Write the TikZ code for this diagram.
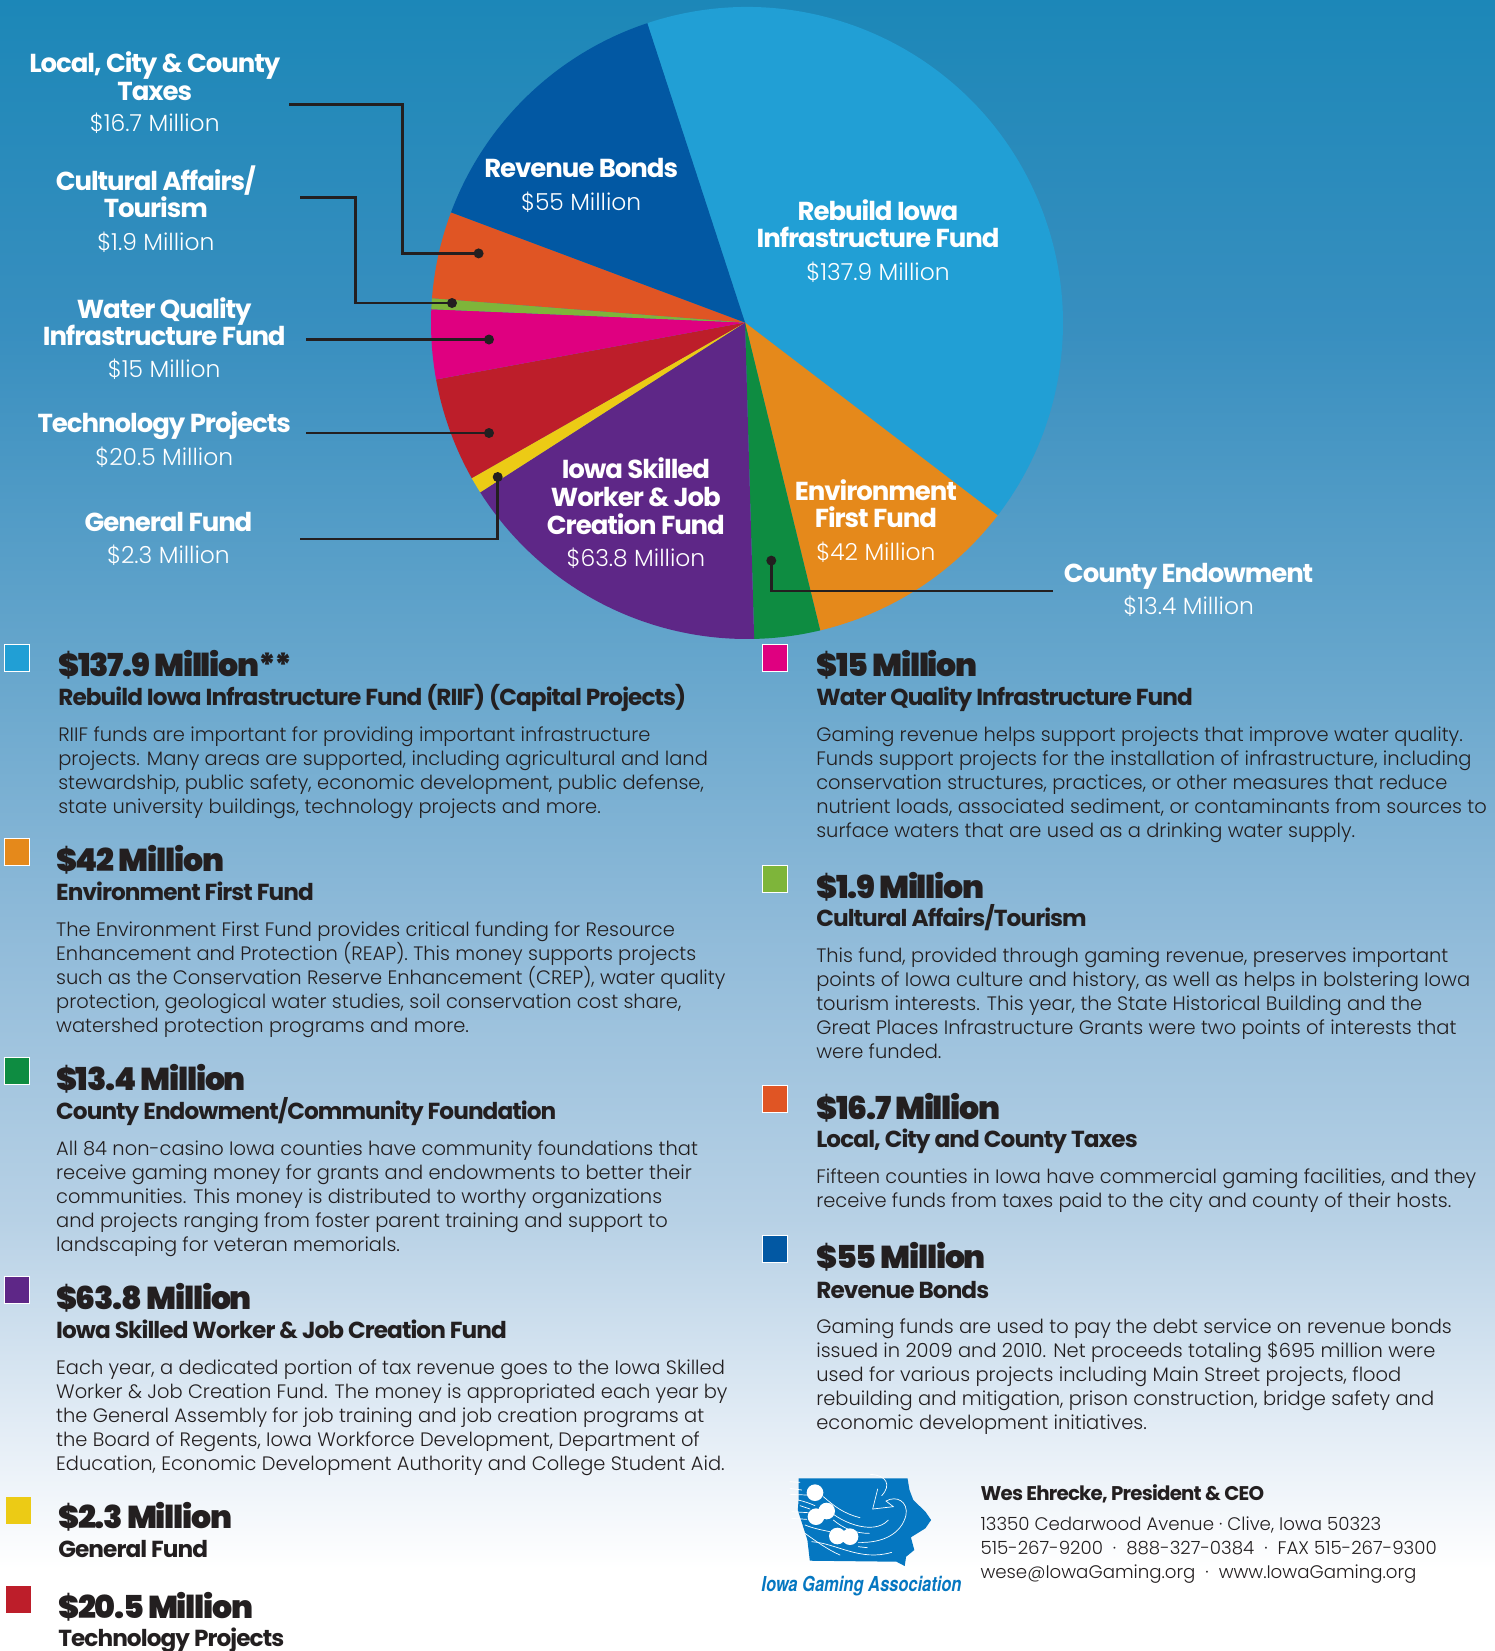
\documentclass[tikz,border=0pt]{standalone}
\usepackage{fontspec}
\setmainfont{Poppins}
\newfontfamily\fblack[LetterSpace=-4]{Poppins Black}
\newfontfamily\fbold[LetterSpace=-4]{Poppins Bold}
\newfontfamily\flight{Poppins Light}
\newfontfamily\flogo[FakeStretch=0.8]{TeX Gyre Heros}
\usetikzlibrary{calc}
\newcommand{\tightlines}{\lineskiplimit=-20pt\relax}
\definecolor{ink}{HTML}{231F20}
\definecolor{cRiif}{HTML}{219FD5}
\definecolor{cEnv}{HTML}{E5891B}
\definecolor{cCounty}{HTML}{0E8C41}
\definecolor{cSkill}{HTML}{5E2787}
\definecolor{cGen}{HTML}{ECCB15}
\definecolor{cTech}{HTML}{BD1E2A}
\definecolor{cWater}{HTML}{DF0080}
\definecolor{cCult}{HTML}{7EB53A}
\definecolor{cLocal}{HTML}{E05524}
\definecolor{cBond}{HTML}{0258A3}
\definecolor{cLogo}{HTML}{0577C1}
\pgfdeclareverticalshading{pagebg}{100bp}{
 rgb(0bp)=(1,1,1);
 rgb(27.5bp)=(1,1,1);
 rgb(31bp)=(.91,.94,.97);
 rgb(38bp)=(.72,.82,.90);
 rgb(47bp)=(.56,.73,.85);
 rgb(55bp)=(.40,.65,.80);
 rgb(65bp)=(.22,.56,.75);
 rgb(75bp)=(.11,.53,.72);
 rgb(100bp)=(.11,.53,.72)}
\tikzset{
 pic px/.style={x=0.5pt,y=-0.5pt},
 wedge/.style={line width=0pt},
 leader/.style={draw=ink,line width=1.25pt},
 leaddot/.style={circle,fill=ink,inner sep=0pt,minimum size=5pt},
 lbltitle/.style={text=white,align=center,inner sep=0pt,anchor=north,font=\fbold\fontsize{13}{13.7pt}\selectfont\tightlines},
 lblamt/.style={text=white,inner sep=0pt,anchor=base,font=\flight\fontsize{11.7}{14pt}\selectfont},
 key/.style={draw=white,line width=.5pt,minimum width=12.6pt,minimum height=13.5pt,inner sep=0pt,anchor=north west},
 amt/.style={text=ink,inner sep=0pt,anchor=base west,font=\fblack\fontsize{15.8}{20pt}\selectfont},
 fund/.style={text=ink,inner sep=0pt,anchor=base west,font=\fbold\fontsize{11.6}{14pt}\selectfont},
 body/.style={text=ink,inner sep=0pt,anchor=north west,align=left,font=\flight\fontsize{9.72}{12pt}\selectfont\tightlines},
 contact/.style={text=ink,inner sep=0pt,anchor=base west,font=\flight\fontsize{9.1}{12pt}\selectfont},
 swirl/.style={draw=white,line width=.35pt,line cap=round},
}
\newcommand{\slice}[3]{\fill[#1,wedge] (apex) -- ($(centre)+(#2:316)$) arc[start angle=#2,end angle=#3,radius=316] -- cycle;}
\begin{document}
\begin{tikzpicture}[pic px]
\useasboundingbox (0,0) rectangle (1495,1651);
\shade[shading=pagebg] (0,0) rectangle (1495,1651);
\coordinate (centre) at (747,323);
\coordinate (apex) at (745,322.5);
% pie
\slice{cRiif}{-108.4}{37.5}
\slice{cEnv}{37.5}{76.6}
\slice{cCounty}{76.6}{88.7}
\slice{cSkill}{88.7}{147.6}
\slice{cGen}{147.6}{150.6}
\slice{cTech}{150.6}{169.7}
\slice{cWater}{169.7}{182.5}
\slice{cCult}{182.5}{184.5}
\slice{cLocal}{184.5}{200.5}
\slice{cBond}{200.5}{251.6}
% leaders
\node[leaddot] (dLocal) at (478.6,253.4) {};
\node[leaddot] (dCult) at (452,303) {};
\node[leaddot] (dWater) at (489,339.5) {};
\node[leaddot] (dTech) at (489,433) {};
\node[leaddot] (dGen) at (497.7,477) {};
\node[leaddot] (dCounty) at (771.3,560.6) {};
\coordinate (sLocal) at (289,104.4);
\coordinate (mLocal) at (402.4,253.4);
\coordinate (sCult) at (300.3,197.4);
\coordinate (mCult) at (355.6,303);
\coordinate (sWater) at (306,339.5);
\coordinate (sTech) at (306,433);
\coordinate (sGen) at (300.3,539);
\coordinate (sCounty) at (1052.6,591);
\draw[leader] (sLocal) -| (mLocal) -- (dLocal.center);
\draw[leader] (sCult) -| (mCult) -- (dCult.center);
\draw[leader] (sWater) -- (dWater.center);
\draw[leader] (sTech) -- (dTech.center);
\draw[leader] (sGen) -| (dGen.center);
\draw[leader] (sCounty) -| (dCounty.center);
\begin{scope}[x=0.5264pt,y=-0.5264pt]
% pie labels
\node[lbltitle] (tLocal) at (147,49) {Local, City \& County\\Taxes};
\node[lblamt] (aLocal) at (147,125) {\$16.7 Million};
\node[lbltitle] (tCult) at (148,157) {Cultural Affairs/\\Tourism};
\node[lblamt] (aCult) at (148,238) {\$1.9 Million};
\node[lbltitle] (tWater) at (156,282) {Water Quality\\Infrastructure Fund};
\node[lblamt] (aWater) at (156,359) {\$15 Million};
\node[lbltitle] (tTech) at (156,391) {Technology Projects};
\node[lblamt] (aTech) at (156,442) {\$20.5 Million};
\node[lbltitle] (tGen) at (160,486) {General Fund};
\node[lblamt] (aGen) at (160,535) {\$2.3 Million};
\node[lbltitle] (tCounty) at (1129,535) {County Endowment};
\node[lblamt] (aCounty) at (1129,584) {\$13.4 Million};
\node[lbltitle] (tBond) at (552,150) {Revenue Bonds};
\node[lblamt] (aBond) at (552,200) {\$55 Million};
\node[lbltitle] (tRiif) at (834,189) {Rebuild Iowa\\Infrastructure Fund};
\node[lblamt] (aRiif) at (834,266) {\$137.9 Million};
\node[lbltitle,font=\fbold\fontsize{13}{14pt}\selectfont\tightlines] (tSkill) at (604,434) {Iowa Skilled\\Worker \& Job\\Creation Fund};
\node[lblamt] (aSkill) at (604,538) {\$63.8 Million};
\node[lbltitle] (tEnv) at (832,455) {Environment\\First Fund};
\node[lblamt] (aEnv) at (832,532) {\$42 Million};
% left column
\node[key,fill=cRiif] (k1) at (4,612) {};
\node[amt] (m1) at (55,643) {\$137.9 Million**};
\node[fund] (f1) at (55,670) {Rebuild Iowa Infrastructure Fund (RIIF) (Capital Projects)};
\node[body] (b1) at (55,690) {RIIF funds are important for providing important infrastructure\\projects. Many areas are supported, including agricultural and land\\stewardship, public safety, economic development, public defense,\\state university buildings, technology projects and more.};
\node[key,fill=cEnv] (k2) at (4,796) {};
\node[amt] (m2) at (53,828) {\$42 Million};
\node[fund] (f2) at (53,855) {Environment First Fund};
\node[body] (b2) at (53,875) {The Environment First Fund provides critical funding for Resource\\Enhancement and Protection (REAP). This money supports projects\\such as the Conservation Reserve Enhancement (CREP), water quality\\protection, geological water studies, soil conservation cost share,\\watershed protection programs and more.};
\node[key,fill=cCounty] (k3) at (4,1004) {};
\node[amt] (m3) at (53,1036) {\$13.4 Million};
\node[fund] (f3) at (53,1063) {County Endowment/Community Foundation};
\node[body] (b3) at (53,1083) {All 84 non-casino Iowa counties have community foundations that\\receive gaming money for grants and endowments to better their\\communities. This money is distributed to worthy organizations\\and projects ranging from foster parent training and support to\\landscaping for veteran memorials.};
\node[key,fill=cSkill] (k4) at (4,1212) {};
\node[amt] (m4) at (53,1244) {\$63.8 Million};
\node[fund] (f4) at (53,1271) {Iowa Skilled Worker \& Job Creation Fund};
\node[body] (b4) at (53,1291) {Each year, a dedicated portion of tax revenue goes to the Iowa Skilled\\Worker \& Job Creation Fund. The money is appropriated each year by\\the General Assembly for job training and job creation programs at\\the Board of Regents, Iowa Workforce Development, Department of\\Education, Economic Development Authority and College Student Aid.};
\node[key,fill=cGen,draw=none] (k5) at (5,1421) {};
\node[amt] (m5) at (55,1452) {\$2.3 Million};
\node[fund] (f5) at (55,1479) {General Fund};
\node[key,fill=cTech,draw=none] (k6) at (5,1506) {};
\node[amt] (m6) at (55,1537) {\$20.5 Million};
\node[fund] (f6) at (55,1564) {Technology Projects};
% right column
\node[key,fill=cWater] (k7) at (724,612) {};
\node[amt] (m7) at (775,643) {\$15 Million};
\node[fund] (f7) at (775,670) {Water Quality Infrastructure Fund};
\node[body] (b7) at (775,690) {Gaming revenue helps support projects that improve water quality.\\Funds support projects for the installation of infrastructure, including\\conservation structures, practices, or other measures that reduce\\nutrient loads, associated sediment, or contaminants from sources to\\surface waters that are used as a drinking water supply.};
\node[key,fill=cCult] (k8) at (724,822) {};
\node[amt] (m8) at (775,853) {\$1.9 Million};
\node[fund] (f8) at (775,880) {Cultural Affairs/Tourism};
\node[body] (b8) at (775,900) {This fund, provided through gaming revenue, preserves important\\points of Iowa culture and history, as well as helps in bolstering Iowa\\tourism interests. This year, the State Historical Building and the\\Great Places Infrastructure Grants were two points of interests that\\were funded.};
\node[key,fill=cLocal] (k9) at (724,1031) {};
\node[amt] (m9) at (775,1063) {\$16.7 Million};
\node[fund] (f9) at (775,1090) {Local, City and County Taxes};
\node[body] (b9) at (775,1110) {Fifteen counties in Iowa have commercial gaming facilities, and they\\receive funds from taxes paid to the city and county of their hosts.};
\node[key,fill=cBond] (k10) at (724,1173) {};
\node[amt] (m10) at (775,1205) {\$55 Million};
\node[fund] (f10) at (775,1233) {Revenue Bonds};
\node[body] (b10) at (775,1252) {Gaming funds are used to pay the debt service on revenue bonds\\issued in 2009 and 2010. Net proceeds totaling \$695 million were\\used for various projects including Main Street projects, flood\\rebuilding and mitigation, prison construction, bridge safety and\\economic development initiatives.};
% contact
\node[contact,font=\fbold\fontsize{9.9}{12pt}\selectfont] (c0) at (931,1425) {Wes Ehrecke, President \& CEO};
\node[contact] (c1) at (931,1454) {13350 Cedarwood Avenue · Clive, Iowa 50323};
\node[contact] (c2) at (931,1477) {515-267-9200 \ · \ 888-327-0384 \ · \ FAX 515-267-9300};
\node[contact] (c3) at (931,1499) {wese@IowaGaming.org \ · \ www.IowaGaming.org};
\end{scope}
% logo
\fill[cLogo] (798.7,1478.3) -- (907.5,1478.3) -- (909.5,1490) -- (913.3,1500) -- (925.4,1511.7) -- (931.1,1520) -- (925.4,1528.3) -- (910.9,1537.3) -- (914.3,1550) -- (906.1,1556.7) -- (904.7,1566) -- (896.5,1561.7) -- (809.8,1560.7) -- (807.4,1540) -- (797.8,1510) -- (798.7,1498.3) -- cycle;
\begin{scope}[shift={(780,1465)},x=0.16667pt,y=-0.16667pt]
\fill[white] (105,83) circle[radius=25] (140,138) circle[radius=25] (108,155) circle[radius=25] (172,213) circle[radius=25] (210,215) circle[radius=25];
\draw[swirl] (270,28) .. controls (320,30) and (335,60) .. (305,92);
\draw[swirl] (293,72) -- (278,132) -- (340,125) -- (318,108) .. controls (350,90) and (385,110) .. (378,150) .. controls (365,205) and (310,235) .. (235,232);
\draw[swirl] (130,95) .. controls (165,125) and (190,145) .. (240,158);
\draw[swirl] (130,120) .. controls (170,170) and (280,215) .. (325,165);
\draw[swirl] (160,165) .. controls (190,190) and (225,205) .. (268,205);
\draw[swirl] (55,105) .. controls (75,110) and (90,115) .. (105,122);
\draw[swirl] (60,122) -- (90,132);
\draw[swirl] (75,180) .. controls (100,190) and (125,195) .. (150,200);
\draw[swirl] (75,205) .. controls (110,230) and (145,255) .. (180,270);
\draw[swirl] (95,230) .. controls (170,235) and (240,290) .. (335,262);
\draw[swirl] (235,245) -- (262,248);
\draw[swirl] (30,50) -- (60,52);
\draw[swirl] (30,70) -- (65,75);
\draw[swirl] (30,88) -- (80,90);
\draw[swirl] (35,140) -- (85,143);
\draw[swirl] (35,160) -- (80,163);
\end{scope}
\node[text=cLogo,inner sep=0pt,anchor=base,font=\flogo\bfseries\itshape\fontsize{10.3}{12pt}\selectfont] (logoName) at (861.5,1591) {Iowa Gaming Association};
\end{tikzpicture}
\end{document}
